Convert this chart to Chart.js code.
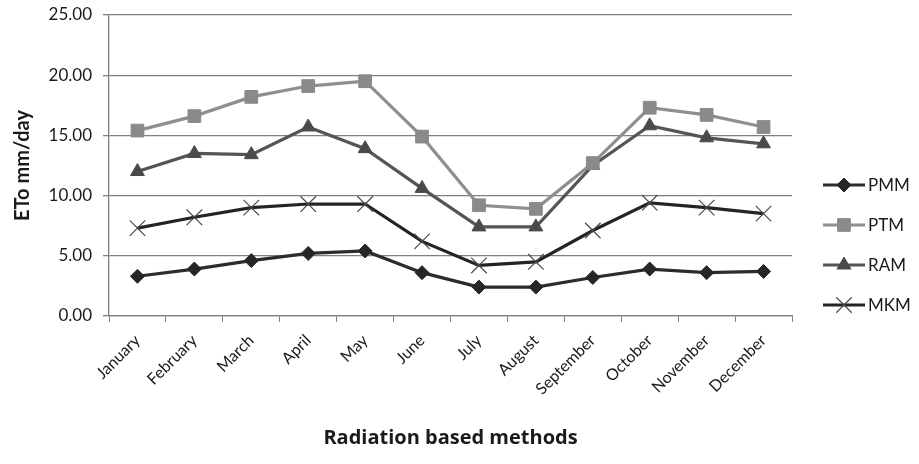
<!DOCTYPE html>
<html>
<head>
<meta charset="utf-8">
<title>ETo by radiation based methods</title>
<script src="https://cdn.jsdelivr.net/npm/chart.js@4.4.1/dist/chart.umd.min.js"></script>
<style>
    html, body { margin: 0; padding: 0; background: #ffffff; }
    #wrap { width: 919px; height: 464px; position: relative; }
</style>
</head>
<body>
<div id="wrap"><canvas id="etoChart"></canvas></div>
<script>
// Monthly ETo (mm/day) per method
const months = ['January', 'February', 'March', 'April', 'May', 'June',
    'July', 'August', 'September', 'October', 'November', 'December'];
const pmm = [3.3, 3.9, 4.6, 5.2, 5.4, 3.6, 2.4, 2.4, 3.2, 3.9, 3.6, 3.7];
const ptm = [15.4, 16.6, 18.2, 19.1, 19.5, 14.9, 9.2, 8.9, 12.7, 17.3, 16.7, 15.7];
const ram = [12.0, 13.5, 13.4, 15.7, 13.9, 10.6, 7.4, 7.4, 12.5, 15.8, 14.8, 14.3];
const mkm = [7.3, 8.2, 9.0, 9.3, 9.3, 6.2, 4.2, 4.5, 7.1, 9.4, 9.0, 8.5];
const yTicks = [0, 5, 10, 15, 20, 25];

const FONT = 'Lato, "Open Sans", sans-serif';
const TEXT = '#1a1a1a';
const GRID = '#7f7f7f';

function series(label, data, color, pointStyle, radius, pointColor, pointWidth) {
    return {
        label: label,
        data: data,
        borderColor: color,
        backgroundColor: pointColor,
        borderWidth: 3.2,
        pointStyle: pointStyle,
        pointRadius: radius,
        pointHoverRadius: radius,
        pointBackgroundColor: pointColor,
        pointBorderColor: pointColor,
        pointBorderWidth: pointWidth,
        tension: 0
    };
}

// Legend with line + marker samples, drawn at the right of the plot
const sideLegend = {
    id: 'sideLegend',
    afterDraw(chart) {
        const ctx = chart.ctx;
        const x0 = 823, x1 = 865;
        const y0 = 185, gap = 40;
        ctx.save();
        chart.data.datasets.forEach((ds, i) => {
            const y = y0 + i * gap;
            ctx.strokeStyle = ds.borderColor;
            ctx.lineWidth = ds.borderWidth;
            ctx.beginPath();
            ctx.moveTo(x0, y);
            ctx.lineTo(x1, y);
            ctx.stroke();
            ctx.fillStyle = ds.pointBackgroundColor;
            ctx.strokeStyle = ds.pointBorderColor;
            ctx.lineWidth = ds.pointBorderWidth;
            Chart.helpers.drawPoint(ctx, {
                pointStyle: ds.pointStyle,
                radius: ds.pointRadius,
                borderWidth: ds.pointBorderWidth,
                rotation: 0
            }, (x0 + x1) / 2, y);
            ctx.fillStyle = TEXT;
            ctx.font = '17px ' + FONT;
            ctx.textBaseline = 'middle';
            ctx.textAlign = 'left';
            ctx.fillText(ds.label, x1 + 3, y + 1);
        });
        ctx.restore();
    }
};

new Chart(document.getElementById('etoChart'), {
    type: 'line',
    data: {
        labels: months,
        datasets: [
            series('PMM', pmm, '#2c2c2c', 'rectRot', 7, '#262626', 1),
            series('PTM', ptm, '#8f8f8f', 'rect', 9, '#8a8a8a', 1),
            series('RAM', ram, '#555555', 'triangle', 8, '#4a4a4a', 1),
            series('MKM', mkm, '#242424', 'crossRot', 11, '#4a4a4a', 1.2)
        ]
    },
    options: {
        responsive: true,
        maintainAspectRatio: false,
        animation: false,
        layout: {
            padding: { top: 15, right: 127, bottom: 0, left: 0 }
        },
        plugins: {
            legend: { display: false },
            tooltip: { enabled: false }
        },
        scales: {
            x: {
                offset: true,
                afterFit(scale) {
                    scale.height = 148;
                    scale.paddingLeft = 0;
                    scale.paddingRight = 0;
                },
                grid: {
                    offset: true,
                    drawOnChartArea: false,
                    drawTicks: true,
                    tickLength: 6,
                    color: GRID
                },
                border: { color: GRID, width: 1.3 },
                ticks: {
                    minRotation: 45,
                    maxRotation: 45,
                    padding: 9,
                    color: TEXT,
                    font: { family: FONT, size: 16 }
                },
                title: {
                    display: true,
                    text: 'Radiation based methods',
                    color: TEXT,
                    font: { family: '"Open Sans", Lato, sans-serif', size: 20, weight: 'bold' },
                    padding: { top: 4, bottom: 14 }
                }
            },
            y: {
                min: 0,
                max: 25,
                afterFit(scale) {
                    scale.width = 109;
                    scale.paddingTop = 0;
                    scale.paddingBottom = 0;
                },
                afterBuildTicks(scale) {
                    scale.ticks = yTicks.map(v => ({ value: v }));
                },
                grid: {
                    color: GRID,
                    lineWidth: 1.3,
                    drawTicks: true,
                    tickLength: 6
                },
                border: { color: GRID, width: 1.3 },
                ticks: {
                    padding: 11,
                    color: TEXT,
                    font: { family: FONT, size: 17 },
                    callback: v => Number(v).toFixed(2)
                },
                title: {
                    display: true,
                    text: 'ETo mm/day',
                    color: TEXT,
                    font: { family: FONT, size: 20, weight: 'bold' },
                    padding: { top: 11, bottom: 0 }
                }
            }
        }
    },
    plugins: [sideLegend]
});
</script>
</body>
</html>
